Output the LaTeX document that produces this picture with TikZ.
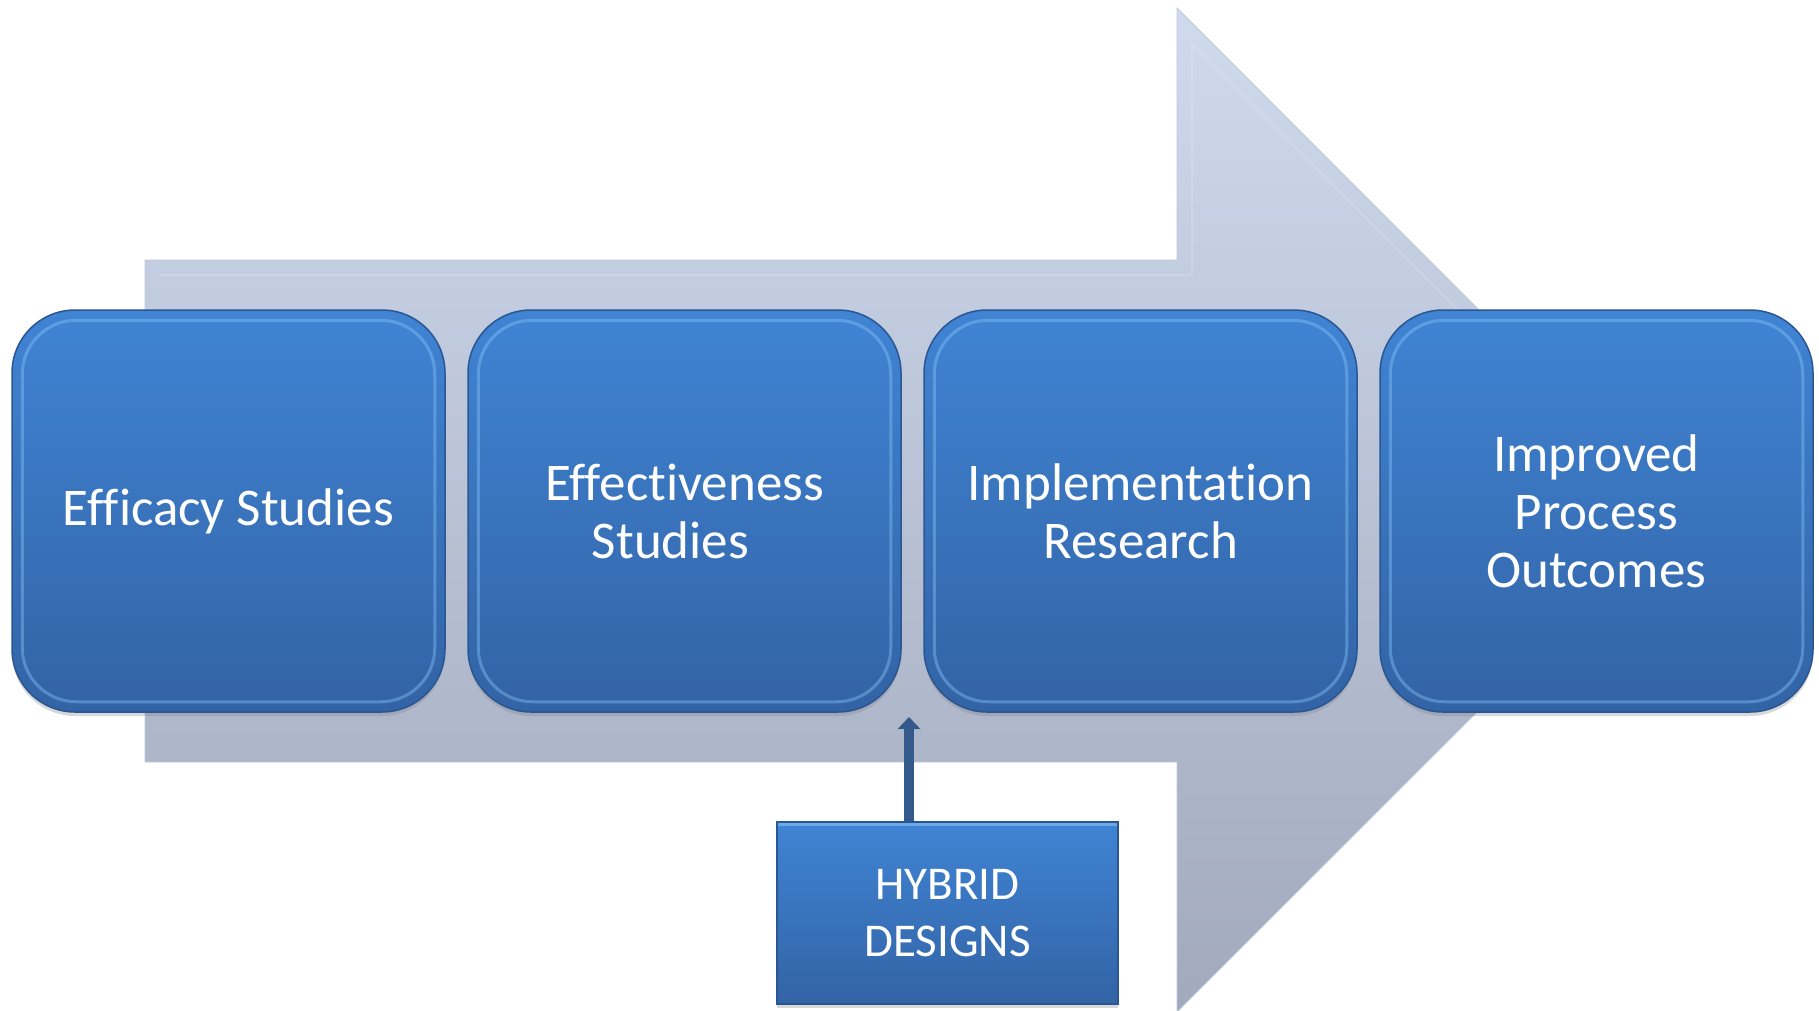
\documentclass[tikz,border=0pt]{standalone}
\usepackage{fontspec}
\setmainfont{Carlito}[Ligatures=NoCommon]
\usetikzlibrary{arrows.meta,shadows}
\definecolor{boxtop}{RGB}{64,132,212}
\definecolor{boxbot}{RGB}{50,99,165}
\definecolor{boxedge}{RGB}{42,86,146}
\definecolor{rimc}{RGB}{135,195,248}
\definecolor{arrtop}{RGB}{207,218,238}
\definecolor{arrbot}{RGB}{162,169,188}
\definecolor{hycol}{RGB}{52,90,140}
\tikzset{
  stagebox/.style={rounded corners=63pt, minimum width=433pt, minimum height=402pt,
    top color=boxtop, bottom color=boxbot, draw=boxedge, line width=1.5pt,
    text=white, align=center, font=\fontsize{53}{58}\selectfont, inner sep=0pt,
    drop shadow={shadow xshift=0pt, shadow yshift=-4pt, opacity=0.3}},
  hybox/.style={minimum width=341pt, minimum height=182pt,
    top color=boxtop, bottom color=boxbot, draw=boxedge, line width=1.5pt,
    text=white, align=center, font=\fontsize{47}{57}\selectfont, inner sep=0pt,
    drop shadow={shadow xshift=0pt, shadow yshift=-4pt, opacity=0.3}},
  rimline/.style={draw=rimc, line width=3pt, opacity=0.42, rounded corners=54pt},
  bigarrow/.style={top color=arrtop, bottom color=arrbot, draw=arrtop!80!gray, line width=0.8pt},
  hyarrow/.style={draw=hycol, line width=10pt, -{Triangle[width=22pt,length=12pt]}},
}
\begin{document}
\begin{tikzpicture}[x=1pt,y=-1pt]
\useasboundingbox (0,0) rectangle (1819,1010);
\fill[white] (0,0) rectangle (1819,1010);
% big background arrow
\path[bigarrow] (145,260) -- (1177,260) -- (1177,8) -- (1679,510) -- (1177,1012)
  -- (1177,762) -- (145,762) -- cycle;
\draw[white, opacity=0.15, line width=2pt] (160,275) -- (1192,275) -- (1192,44) -- (1658,510);
% stage boxes
\node[stagebox] (b1) at (228.5,511) {Efficacy Studies};
\node[stagebox] (b2) at (684.5,511) {Effectiveness\\Studies\hspace*{28pt}};
\node[stagebox] (b3) at (1140.5,511) {Implementation\\Research};
\node[stagebox] (b4) at (1596.5,511) {Improved\\Process\\Outcomes};
\foreach \b in {b1,b2,b3,b4}{
  \draw[rimline] ([shift={(11,11)}]\b.north west) rectangle ([shift={(-11,-11)}]\b.south east);
}
% hybrid designs
\node[hybox] (hy) at (947.5,913) {HYBRID\\DESIGNS};
\draw[draw=rimc, line width=3pt, opacity=0.6] ([shift={(2,3)}]hy.north west) -- ([shift={(-2,3)}]hy.north east);
\coordinate (tipA) at (909,717);
\draw[hyarrow] (hy.north -| tipA) -- (tipA);
\end{tikzpicture}
\end{document}
